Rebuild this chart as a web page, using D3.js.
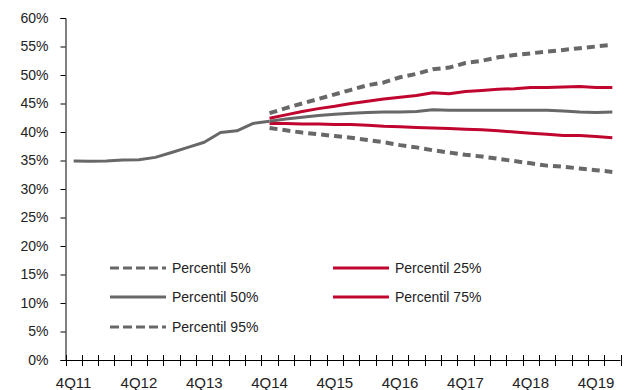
<!DOCTYPE html>
<html>
<head>
<meta charset="utf-8">
<script src="https://cdn.jsdelivr.net/npm/d3@7/dist/d3.min.js"></script>
<style>
  html, body { margin: 0; padding: 0; background: #fff; }
  svg { display: block; }
  text { font-family: "Liberation Sans", "DejaVu Sans", sans-serif; fill: #222; }
</style>
</head>
<body>
<svg id="chart" width="626" height="390"></svg>
<script>
// Quarters from 4Q11 to 1Q20
const quarters = ["4Q11",
  "1Q12","2Q12","3Q12","4Q12","1Q13","2Q13","3Q13","4Q13",
  "1Q14","2Q14","3Q14","4Q14","1Q15","2Q15","3Q15","4Q15",
  "1Q16","2Q16","3Q16","4Q16","1Q17","2Q17","3Q17","4Q17",
  "1Q18","2Q18","3Q18","4Q18","1Q19","2Q19","3Q19","4Q19","1Q20"];
const tickLabels = ["4Q11","4Q12","4Q13","4Q14","4Q15","4Q16","4Q17","4Q18","4Q19"];
const yTicks = [0,5,10,15,20,25,30,35,40,45,50,55,60];

// Historical series (4Q11 - 4Q14)
const historyQ = quarters.slice(0, 13);
const history = [34.9, 34.85, 34.9, 35.1, 35.15, 35.55, 36.4, 37.3, 38.2, 39.9, 40.2, 41.5, 41.9];

// Projections (4Q14 - 1Q20)
const projQ = quarters.slice(12);
const p95 = [43.3, 44.2, 45.0, 45.8, 46.6, 47.4, 48.2, 48.7, 49.6, 50.2, 51.0, 51.3, 52.1, 52.5, 53.1, 53.5, 53.8, 54.1, 54.4, 54.7, 55.0, 55.3];
const p75 = [42.4, 43.0, 43.6, 44.1, 44.5, 45.0, 45.4, 45.8, 46.1, 46.4, 46.9, 46.7, 47.1, 47.3, 47.5, 47.6, 47.8, 47.8, 47.9, 48.0, 47.8, 47.8];
const p50 = [41.9, 42.3, 42.6, 42.9, 43.1, 43.3, 43.4, 43.5, 43.5, 43.6, 43.9, 43.8, 43.8, 43.8, 43.8, 43.8, 43.8, 43.8, 43.7, 43.5, 43.4, 43.5];
const p25 = [41.5, 41.5, 41.4, 41.4, 41.3, 41.3, 41.2, 41.0, 40.9, 40.8, 40.7, 40.6, 40.5, 40.4, 40.2, 40.0, 39.8, 39.6, 39.4, 39.4, 39.2, 39.0];
const p5  = [40.7, 40.3, 39.9, 39.6, 39.3, 39.0, 38.6, 38.2, 37.7, 37.3, 36.8, 36.4, 36.0, 35.7, 35.3, 34.9, 34.5, 34.1, 33.9, 33.6, 33.3, 33.0];

const GRAY = "#686868";
const RED = "#c0062f";

const svg = d3.select("#chart");
const mLeft = 65.5, mRight = 620.5, mTop = 18, mBottom = 360;

const x = d3.scaleBand().domain(quarters).range([mLeft, mRight]).padding(0);
const y = d3.scaleLinear().domain([0, 60]).range([mBottom, mTop]);
const cx = q => x(q) + x.bandwidth() / 2;

// Y axis
const yAxis = d3.axisLeft(y).tickValues(yTicks).tickFormat(d => d + "%").tickSize(5).tickPadding(12);
const gy = svg.append("g").attr("transform", `translate(${mLeft},0)`).call(yAxis);
gy.select(".domain").attr("stroke", "#000").attr("stroke-width", 1);
gy.selectAll(".tick line").attr("stroke", "#000");
gy.selectAll(".tick text").attr("font-size", 14).attr("fill", "#222")
  .style("font-family", "'Liberation Sans', sans-serif");

// X axis: line + ticks crossing at every category boundary
const gx = svg.append("g").attr("class", "xaxis");
gx.append("line").attr("x1", mLeft).attr("x2", mRight).attr("y1", mBottom + 0.5).attr("y2", mBottom + 0.5)
  .attr("stroke", "#000");
const boundaries = quarters.map(q => x(q)).concat([mRight]);
gx.selectAll("line.tk").data(boundaries).join("line").attr("class", "tk")
  .attr("x1", d => Math.round(d) + 0.5).attr("x2", d => Math.round(d) + 0.5)
  .attr("y1", mBottom - 5).attr("y2", mBottom + 6).attr("stroke", "#000");
gx.selectAll("text").data(tickLabels).join("text")
  .attr("x", d => cx(d)).attr("y", 388).attr("text-anchor", "middle")
  .attr("font-size", 15).text(d => d);

// Lines
const line = (qs) => d3.line().x((d, i) => cx(qs[i])).y(d => y(d));

svg.append("path").datum(history).attr("d", line(historyQ))
  .attr("fill", "none").attr("stroke", GRAY).attr("stroke-width", 3).attr("stroke-linejoin", "round");

const series = [
  { name: "Percentil 5%", data: p5, color: GRAY, dash: "8,5", w: 4 },
  { name: "Percentil 25%", data: p25, color: RED, dash: null, w: 3 },
  { name: "Percentil 50%", data: p50, color: GRAY, dash: null, w: 3 },
  { name: "Percentil 75%", data: p75, color: RED, dash: null, w: 3 },
  { name: "Percentil 95%", data: p95, color: GRAY, dash: "8,5", w: 4 }
];
series.forEach(s => {
  svg.append("path").datum(s.data).attr("d", line(projQ))
    .attr("fill", "none").attr("stroke", s.color).attr("stroke-width", s.w)
    .attr("stroke-linejoin", "round")
    .attr("stroke-dasharray", s.dash);
});

// Legend
const legendPos = [
  { x: 110, y: 268 }, { x: 333, y: 268 },
  { x: 110, y: 297 }, { x: 333, y: 297 },
  { x: 110, y: 327 }
];
series.forEach((s, i) => {
  const p = legendPos[i];
  const g = svg.append("g").attr("transform", `translate(${p.x},${p.y})`);
  g.append("line").attr("x1", 0).attr("x2", 56).attr("y1", 0).attr("y2", 0)
    .attr("stroke", s.color).attr("stroke-width", 3)
    .attr("stroke-dasharray", s.dash ? "9,4" : null);
  g.append("text").attr("x", 62).attr("y", 5).attr("font-size", 14).text(s.name);
});
</script>
</body>
</html>
